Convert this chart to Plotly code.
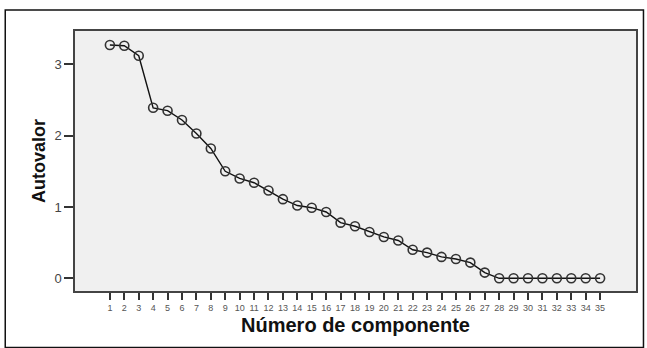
import plotly.graph_objects as go

componentes = list(range(1, 36))
autovalores = [3.27, 3.26, 3.12, 2.39, 2.35, 2.22, 2.03, 1.82, 1.50, 1.40,
               1.34, 1.23, 1.11, 1.02, 0.99, 0.93, 0.78, 0.73, 0.65, 0.58,
               0.53, 0.40, 0.36, 0.30, 0.27, 0.22, 0.08, 0.0, 0.0, 0.0,
               0.0, 0.0, 0.0, 0.0, 0.0]
y_ticks = [0, 1, 2, 3]

W, H = 647, 348
L, R, T, B = 75, 9, 31, 57
pw, ph = W - L - R, H - T - B

fig = go.Figure()
fig.add_trace(go.Scatter(
    x=componentes, y=autovalores, mode="lines+markers",
    line=dict(color="#111111", width=1.4),
    marker=dict(symbol="circle-open", size=9, color="#333333",
                line=dict(width=1.6, color="#333333")),
    showlegend=False, hoverinfo="x+y",
))

font = "Liberation Sans, Arial, sans-serif"
fig.update_layout(
    width=W, height=H,
    margin=dict(l=L, r=R, t=T, b=B, pad=0),
    paper_bgcolor="white", plot_bgcolor="#f0f0f0",
    font=dict(family=font, color="#333333"),
    xaxis=dict(range=[-1.42, 37.49], tickmode="array", tickvals=componentes,
               ticktext=[str(c) for c in componentes],
               tickfont=dict(size=9, color="#555555"),
               ticks="outside", ticklen=7, tickwidth=1.5, tickcolor="#333333",
               showline=True, linecolor="#444444", linewidth=1.5, mirror=True,
               showgrid=False, zeroline=False,
               title=dict(text="<b>Número de componente</b>",
                          font=dict(size=20, color="#111111", family=font),
                          standoff=6)),
    yaxis=dict(range=[-0.178, 3.467], tickmode="array", tickvals=y_ticks,
               tickfont=dict(size=13, color="#444444"),
               ticks="outside", ticklen=9, tickwidth=1.5, tickcolor="#333333",
               showline=True, linecolor="#444444", linewidth=1.5, mirror=True,
               showgrid=False, zeroline=False,
               title=dict(text="<b>Autovalor</b>",
                          font=dict(size=18, color="#111111", family=font),
                          standoff=4)),
)

# outer frame
fig.add_shape(type="rect", xref="paper", yref="paper",
              x0=(5 - L) / pw, x1=(645.5 - L) / pw,
              y0=(H - B - 347.5) / ph, y1=(H - B - 10) / ph,
              line=dict(color="#111111", width=1.5), fillcolor="rgba(0,0,0,0)",
              layer="below")

fig.write_html("out.html", config={"displayModeBar": False},
               post_script="document.body.style.margin='0px';"
                           "document.body.style.overflow='hidden';")
